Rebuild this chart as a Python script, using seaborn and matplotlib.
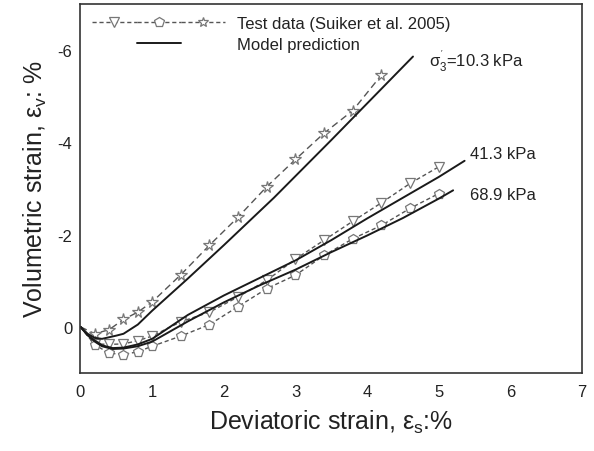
import numpy as np
import pandas as pd
import seaborn as sns
import matplotlib
matplotlib.use("Agg")
import matplotlib.pyplot as plt
from matplotlib.lines import Line2D
from matplotlib.legend_handler import HandlerTuple

# Test data (Suiker et al. 2005)
x_103 = [0.0, 0.2, 0.4, 0.6, 0.8, 1.0, 1.4, 1.8, 2.2, 2.6, 3.0, 3.4, 3.8, 4.2]
y_103 = [0.0, 0.15, 0.06, -0.16, -0.32, -0.54, -1.13, -1.77, -2.38, -3.04, -3.63, -4.20, -4.69, -5.46]
x_413 = [0.0, 0.2, 0.4, 0.6, 0.8, 1.0, 1.4, 1.8, 2.2, 2.6, 3.0, 3.4, 3.8, 4.2, 4.6, 5.0]
y_413 = [0.0, 0.37, 0.38, 0.37, 0.30, 0.20, -0.11, -0.32, -0.65, -1.01, -1.47, -1.88, -2.29, -2.69, -3.11, -3.47]
x_689 = [0.0, 0.2, 0.4, 0.6, 0.8, 1.0, 1.4, 1.8, 2.2, 2.6, 3.0, 3.4, 3.8, 4.2, 4.6, 5.0]
y_689 = [0.0, 0.39, 0.57, 0.60, 0.54, 0.42, 0.20, -0.05, -0.44, -0.83, -1.12, -1.55, -1.91, -2.20, -2.57, -2.89]

# Model predictions
mx_103 = [0.0, 0.1, 0.2, 0.3, 0.5, 0.6, 0.8, 1.0, 1.5, 2.0, 2.7, 3.5, 4.64]
my_103 = [0.0, 0.15, 0.24, 0.26, 0.19, 0.15, -0.05, -0.35, -1.05, -1.77, -2.80, -4.05, -5.86]
mx_413 = [0.0, 0.1, 0.2, 0.3, 0.45, 0.6, 0.8, 1.0, 1.5, 2.0, 2.5, 3.0, 3.5, 4.0, 4.5, 5.0, 5.36]
my_413 = [0.0, 0.18, 0.30, 0.40, 0.46, 0.45, 0.38, 0.26, -0.26, -0.68, -1.06, -1.44, -1.88, -2.35, -2.80, -3.25, -3.60]
mx_689 = [0.0, 0.1, 0.2, 0.3, 0.45, 0.6, 0.8, 1.0, 1.5, 2.0, 2.5, 3.0, 3.5, 4.0, 4.5, 5.0, 5.2]
my_689 = [0.0, 0.18, 0.32, 0.42, 0.48, 0.47, 0.42, 0.32, -0.12, -0.53, -0.90, -1.24, -1.62, -1.98, -2.36, -2.78, -2.96]

labels = ["$\\sigma_3^{'}$=10.3 kPa", "41.3 kPa", "68.9 kPa"]
label_pos = [(4.87, -5.78), (5.43, -3.76), (5.43, -2.87)]

sns.set_style("white")
plt.rcParams['font.family'] = ['Liberation Sans', 'DejaVu Sans']
plt.rcParams['mathtext.fontset'] = 'custom'
plt.rcParams['mathtext.rm'] = 'Liberation Sans'
plt.rcParams['mathtext.it'] = 'Liberation Sans'
plt.rcParams['axes.unicode_minus'] = False

fig = plt.figure(figsize=(5.94, 4.52), dpi=100)
ax = fig.add_axes([0.1355, 0.1726, 0.980 - 0.1355, 0.989 - 0.1726])

test_col = '#555555'
model_col = '#1a1a1a'
mk_edge = '#777777'
markers = ['*', 'v', 'p']
msizes = [8.5, 7.5, 7.5]
dashes = [(5, 3), (3, 2), (3, 2)]
for (xs, ys), mk, ms, ds in zip([(x_103, y_103), (x_413, y_413), (x_689, y_689)], markers, msizes, dashes):
    sns.lineplot(x=xs, y=ys, ax=ax, color=test_col, lw=1.0, sort=False, estimator=None)
    ln = ax.lines[-1]
    ln.set_dashes(ds)
    ln.set_marker(mk)
    ln.set_markersize(ms)
    ln.set_markerfacecolor('white')
    ln.set_markeredgecolor(mk_edge)
    ln.set_markeredgewidth(0.9)
    ln.set_markevery(list(range(1, len(xs))))

for xs, ys in [(mx_103, my_103), (mx_413, my_413), (mx_689, my_689)]:
    sns.lineplot(x=xs, y=ys, ax=ax, color=model_col, lw=1.4, sort=False, estimator=None)

for t, (tx, ty) in zip(labels, label_pos):
    ax.text(tx, ty, t, fontsize=12, color='#222222', ha='left', va='center')

ax.set_xlim(0, 7)
ax.set_ylim(1, -7)
ax.set_xticks(range(0, 8))
ax.set_yticks([-6, -4, -2, 0])
ax.set_xticks(np.arange(0.5, 7, 1), minor=True)
ax.set_yticks([-7, -5, -3, -1, 1], minor=True)
ax.tick_params(which='both', direction='in', color='#333333', labelsize=12, labelcolor='#222222')
ax.tick_params(which='major', length=5, width=1.0)
ax.tick_params(which='minor', length=3, width=1.0)
ax.tick_params(axis='x', pad=8)
ax.tick_params(axis='y', pad=6)
for s in ax.spines.values():
    s.set_color('#333333')
    s.set_linewidth(1.2)

ax.set_xlabel("Deviatoric strain, $\\varepsilon_s$:%", fontsize=18, color='#222222', labelpad=6)
ax.set_ylabel("Volumetric strain, $\\varepsilon_v$: %", fontsize=18, color='#222222', labelpad=6)

def mk_handle(m):
    return Line2D([], [], color=test_col, lw=1.0, dashes=(3, 2), marker=m, markersize=7.5,
                  markerfacecolor='white', markeredgecolor=mk_edge, markeredgewidth=0.9)

h1, h2, h3 = mk_handle('v'), mk_handle('p'), mk_handle('*')
blank = Line2D([], [], color='none', lw=0)
hm = Line2D([], [], color=model_col, lw=1.4)
leg = ax.legend([(h1, h2, h3), (blank, hm, blank)],
                ["Test data (Suiker et al. 2005)", "Model prediction"],
                handler_map={tuple: HandlerTuple(ndivide=3, pad=0)},
                loc='upper left', frameon=False, fontsize=12, handlelength=8.0,
                borderaxespad=0.3, handletextpad=0.7, labelspacing=0.4,
                bbox_to_anchor=(0.0, 1.0))
for t in leg.get_texts():
    t.set_color('#222222')

fig.savefig("out.png", dpi=100)
